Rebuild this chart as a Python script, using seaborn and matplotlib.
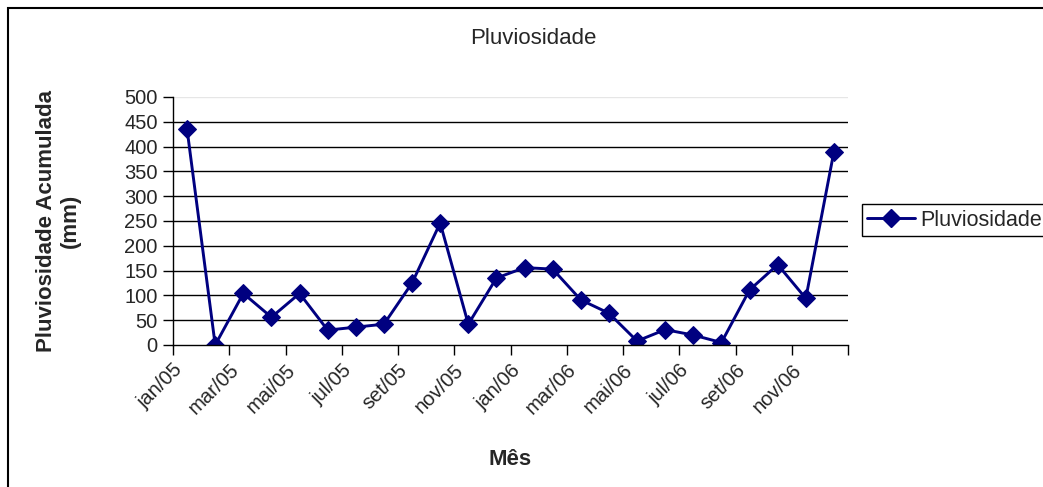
import numpy as np
import pandas as pd
import matplotlib
matplotlib.use("Agg")
import matplotlib.pyplot as plt
import matplotlib.patches as mpatches
import matplotlib.transforms as mtransforms
import seaborn as sns

# monthly accumulated rainfall, jan/05 .. dez/06
months = ["jan/05", "fev/05", "mar/05", "abr/05", "mai/05", "jun/05",
          "jul/05", "ago/05", "set/05", "out/05", "nov/05", "dez/05",
          "jan/06", "fev/06", "mar/06", "abr/06", "mai/06", "jun/06",
          "jul/06", "ago/06", "set/06", "out/06", "nov/06", "dez/06"]
rain_mm = [435, 0, 104, 56, 104, 30, 36, 42, 125, 246, 42, 135,
           156, 153, 91, 64, 8, 31, 20, 5, 111, 162, 94, 390]
tick_labels = months[::2]
y_ticks = list(range(0, 501, 50))

df = pd.DataFrame({"idx": np.arange(len(months)), "Pluviosidade": rain_mm})

sns.set_style("white")
plt.rcParams["font.family"] = ["Liberation Sans", "DejaVu Sans"]

fig = plt.figure(figsize=(10.43, 4.87), dpi=100)
ax = fig.add_axes([173 / 1043, 1 - 345 / 487, 675 / 1043, 248 / 487])

navy = "#000080"
sns.lineplot(data=df, x="idx", y="Pluviosidade", ax=ax, color=navy,
             linewidth=2.1, marker="D", markersize=9.5, markeredgecolor=navy,
             legend=False)

ax.set_xlim(-0.5, len(months) - 0.5)
ax.set_ylim(0, 500)
ax.set_yticks(y_ticks)
ax.set_yticklabels([str(v) for v in y_ticks], fontsize=14.5)
for v in y_ticks[1:-1]:
    ax.axhline(v, color="black", linewidth=1, zorder=0)
ax.axhline(500, color="#e6e6e6", linewidth=1, zorder=0)

xt = np.arange(-0.5, len(months), 2)
ax.set_xticks(xt)
ax.set_xticklabels(tick_labels + [""] * (len(xt) - len(tick_labels)),
                   rotation=45, ha="right", va="top", rotation_mode="anchor",
                   fontsize=14.5)
shift = mtransforms.ScaledTranslation(6 / 100, 0, fig.dpi_scale_trans)
for lab in ax.get_xticklabels():
    lab.set_transform(lab.get_transform() + shift)

ax.tick_params(axis="both", direction="out", length=7, width=1, color="black",
               bottom=True, left=True, pad=4)
for side in ["top", "right"]:
    ax.spines[side].set_visible(False)
for side in ["left", "bottom"]:
    ax.spines[side].set_color("black")
    ax.spines[side].set_linewidth(1)

ax.set_xlabel("Mês", fontsize=16, fontweight="bold", labelpad=22)
ax.set_ylabel("Pluviosidade Acumulada\n(mm)", fontsize=16, fontweight="bold",
              labelpad=31)
fig.text(533 / 1043, 1 - 38 / 487, "Pluviosidade",
         ha="center", va="center", fontsize=16)

handles = [plt.Line2D([], [], color=navy, linewidth=2.1, marker="D",
                      markersize=9.5)]
fig.legend(handles, ["Pluviosidade"], loc="center left",
           bbox_to_anchor=(862 / 1043, 1 - 220 / 487), fontsize=15.5,
           frameon=True, fancybox=False, edgecolor="black", framealpha=1,
           borderpad=0.25, handlelength=2.2, handletextpad=0.25,
           borderaxespad=0)

# outer chart frame
fig.patches.append(mpatches.Rectangle((8 / 1043, -0.1), 1.2, 1 - 8 / 487 + 0.1,
                                      transform=fig.transFigure, fill=False,
                                      edgecolor="black", linewidth=1.5))

fig.savefig("out.png", dpi=100)
